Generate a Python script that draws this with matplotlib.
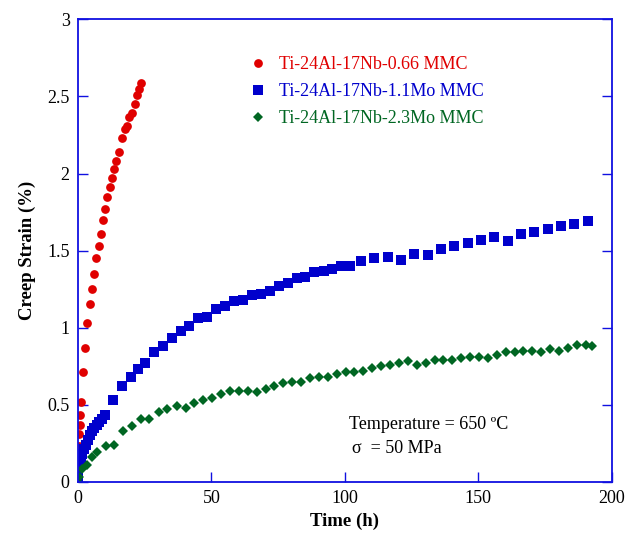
import matplotlib
matplotlib.use("Agg")
from matplotlib import pyplot as plt

# Creep curves at 650 C / 50 MPa for three matrix compositions
time_066 = [0, 0.1, 0.3, 0.5, 0.6, 0.8, 1.0, 1.8, 2.6, 3.5, 4.4, 5.2, 6.0, 6.8, 7.7,
            8.5, 9.3, 10.1, 11.0, 11.9, 12.6, 13.5, 14.4, 15.2, 16.6, 17.7, 18.3,
            19.2, 20.1, 21.4, 22.2, 22.9, 23.6]
strain_066 = [0.02, 0.1, 0.23, 0.31, 0.37, 0.43, 0.52, 0.71, 0.87, 1.03, 1.15, 1.25,
              1.35, 1.45, 1.53, 1.61, 1.70, 1.77, 1.85, 1.91, 1.97, 2.03, 2.08, 2.14,
              2.23, 2.29, 2.31, 2.37, 2.39, 2.45, 2.51, 2.55, 2.59]

time_11mo = [0, 0.1, 0.5, 1.0, 1.5, 2.2, 3.0, 3.6, 4.5, 5.2, 6.1, 7.0, 8.0, 8.9, 10.1,
             13.0, 16.4, 19.7, 22.6, 25.1, 28.5, 31.7, 35.1, 38.5, 41.7, 45.1, 48.5,
             51.7, 55.1, 58.5, 61.7, 65.1, 68.5, 72.0, 75.3, 78.7, 82.0, 85.2, 88.6,
             92.0, 95.1, 98.5, 101.9, 106.1, 110.9, 116.1, 121.1, 125.9, 131.1, 135.9,
             140.9, 146.1, 151.0, 155.9, 161.1, 165.9, 171.0, 176.0, 180.9, 186.0, 191.0]
strain_11mo = [0.03, 0.08, 0.11, 0.14, 0.18, 0.21, 0.24, 0.27, 0.30, 0.33, 0.35, 0.37,
               0.39, 0.41, 0.435, 0.53, 0.62, 0.68, 0.73, 0.77, 0.84, 0.88, 0.93, 0.98,
               1.01, 1.06, 1.07, 1.12, 1.14, 1.17, 1.18, 1.21, 1.22, 1.24, 1.27, 1.29,
               1.32, 1.33, 1.36, 1.37, 1.38, 1.40, 1.40, 1.43, 1.45, 1.46, 1.44, 1.48,
               1.47, 1.51, 1.53, 1.55, 1.57, 1.59, 1.56, 1.61, 1.62, 1.64, 1.66, 1.67, 1.69]

time_23mo = [0, 0.4, 1.4, 3.3, 5.4, 7.0, 10.4, 13.5, 16.7, 20.1, 23.6, 26.7, 30.2,
             33.5, 37.0, 40.4, 43.6, 47.0, 50.3, 53.6, 57.0, 60.3, 63.6, 67.0, 70.3,
             73.6, 77.0, 80.3, 83.6, 87.0, 90.3, 93.6, 97.0, 100.3, 103.6, 106.9, 110.3,
             113.6, 116.9, 120.3, 123.6, 126.9, 130.3, 133.6, 136.9, 140.3, 143.6, 146.9,
             150.3, 153.6, 156.9, 160.3, 163.6, 166.9, 170.3, 173.6, 176.9, 180.3, 183.5,
             186.9, 190.3, 192.5]
strain_23mo = [0.0, 0.03, 0.08, 0.11, 0.16, 0.19, 0.23, 0.24, 0.33, 0.36, 0.41, 0.41,
               0.45, 0.47, 0.49, 0.48, 0.51, 0.53, 0.54, 0.57, 0.59, 0.59, 0.59, 0.58,
               0.60, 0.62, 0.64, 0.65, 0.65, 0.67, 0.68, 0.68, 0.70, 0.71, 0.71, 0.72,
               0.74, 0.75, 0.76, 0.77, 0.78, 0.76, 0.77, 0.79, 0.79, 0.79, 0.80, 0.81,
               0.81, 0.80, 0.82, 0.84, 0.84, 0.85, 0.85, 0.84, 0.86, 0.85, 0.87, 0.89,
               0.885, 0.88]

labels = ["Ti-24Al-17Nb-0.66 MMC", "Ti-24Al-17Nb-1.1Mo MMC", "Ti-24Al-17Nb-2.3Mo MMC"]

plt.rcParams['font.family'] = ['Liberation Serif', 'DejaVu Serif']
axis_blue = '#1010e0'

fig = plt.figure(figsize=(6.27, 5.4), dpi=100)
ax = fig.add_axes([0.1244, 0.108, 0.8512, 0.856])

ax.plot(time_066, strain_066, 'o', ls='', color='#e00000', markersize=6.3,
        markeredgewidth=0, label=labels[0])
ax.plot(time_11mo, strain_11mo, 's', ls='', color='#0000cc', markersize=6.5,
        markeredgewidth=0, label=labels[1])
ax.plot(time_23mo, strain_23mo, 'D', ls='', color='#006622', markersize=4.6,
        markeredgewidth=0, label=labels[2])

ax.set_xlim(0, 200)
ax.set_ylim(0, 3)
ax.set_xticks([0, 50, 100, 150, 200])
ax.set_yticks([0, 0.5, 1, 1.5, 2, 2.5, 3])
ax.set_yticklabels(['0', '0.5', '1', '1.5', '2', '2.5', '3'])

for spine in ax.spines.values():
    spine.set_color(axis_blue)
    spine.set_linewidth(1.3)
ax.tick_params(direction='in', length=7, width=1, color=axis_blue,
               labelsize=13, labelcolor='black', right=True, pad=6)

ax.set_xlabel("Time (h)", fontsize=13.5, fontweight='bold', labelpad=4)
ax.set_ylabel("Creep Strain (%)", fontsize=13.5, fontweight='bold', labelpad=8)

leg = ax.legend(loc='upper left', bbox_to_anchor=(0.289, 0.955), frameon=False,
                fontsize=13, handletextpad=0.7, labelspacing=0.55, handlelength=1.0)
for text, line in zip(leg.get_texts(), leg.get_lines()):
    text.set_color(line.get_color())

ax.text(0.507, 0.113, "Temperature = 650 \u00baC", transform=ax.transAxes, fontsize=13)
ax.text(0.514, 0.062, "\u03c3  = 50 MPa", transform=ax.transAxes, fontsize=13)

fig.savefig("out.png", dpi=100)
